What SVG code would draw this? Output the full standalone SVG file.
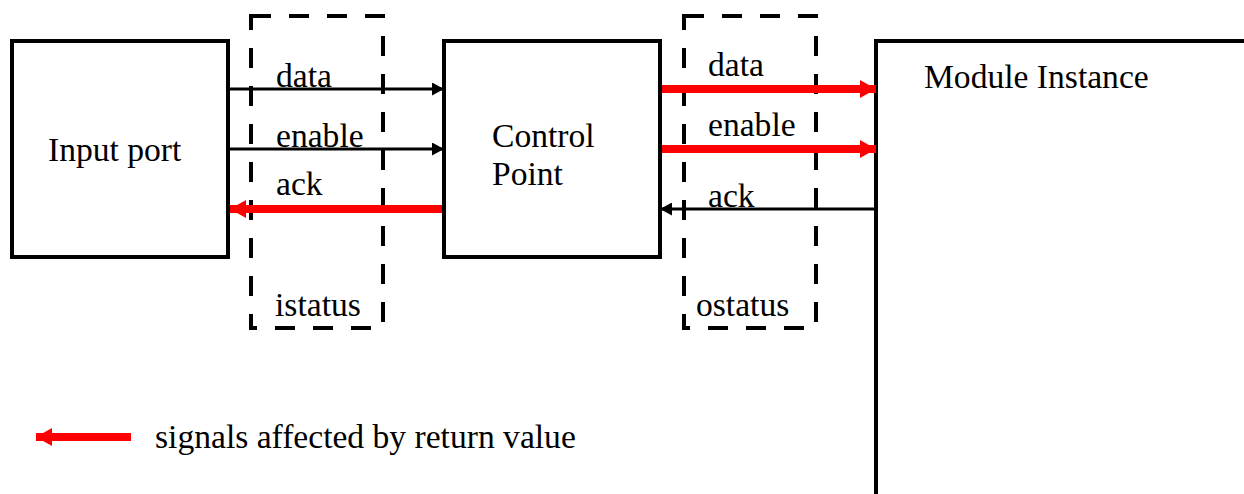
<svg xmlns="http://www.w3.org/2000/svg" width="1244" height="494" viewBox="0 0 1244 494">
  <style>
    .box { fill: none; stroke: #000; stroke-width: 4; }
    .status { fill: none; stroke: #000; stroke-width: 4; stroke-dasharray: 20 18; }
    .sig { stroke: #000; stroke-width: 3; fill: none; }
    .ret { stroke: #ff0000; stroke-width: 8; fill: none; }
    text { font-family: 'Liberation Serif', 'Times New Roman', serif; font-size: 33.6px; fill: #000; }
  </style>
  <defs>
    <marker id="arrow-black" viewBox="0 0 12 13" refX="12" refY="6.5" markerWidth="12" markerHeight="13" markerUnits="userSpaceOnUse" orient="auto">
      <path d="M0,0 L12,6.5 L0,13 Z" fill="#000"/>
    </marker>
    <marker id="arrow-red" viewBox="0 0 16 18" refX="16" refY="9" markerWidth="16" markerHeight="18" markerUnits="userSpaceOnUse" orient="auto">
      <path d="M0,0 L16,9 L0,18 Z" fill="#ff0000"/>
    </marker>
  </defs>

  <rect width="1244" height="494" fill="#fff"/>

  <!-- status latches -->
  <g id="istatus">
    <rect class="status" x="251" y="16" width="132" height="312"/>
    <text x="275" y="316">istatus</text>
  </g>
  <g id="ostatus">
    <rect class="status" x="684" y="16" width="132" height="312"/>
    <text x="696" y="316">ostatus</text>
  </g>

  <!-- nodes -->
  <g id="input-port">
    <rect class="box" x="12" y="41" width="216" height="216"/>
    <text x="48" y="161">Input port</text>
  </g>
  <g id="control-point">
    <rect class="box" x="444" y="41" width="216" height="216"/>
    <text x="492" y="147">Control</text>
    <text x="492" y="185">Point</text>
  </g>
  <g id="module-instance">
    <path class="box" d="M876,494 V41 H1244"/>
    <text x="924" y="88">Module Instance</text>
  </g>

  <!-- connectors -->
  <g id="connectors">
    <line class="sig" x1="228" y1="89" x2="444" y2="89" marker-end="url(#arrow-black)"/>
    <line class="sig" x1="228" y1="149" x2="444" y2="149" marker-end="url(#arrow-black)"/>
    <line class="ret" x1="442" y1="209" x2="230" y2="209" marker-end="url(#arrow-red)"/>
    <line class="ret" x1="662" y1="89" x2="876" y2="89" marker-end="url(#arrow-red)"/>
    <line class="ret" x1="662" y1="149" x2="876" y2="149" marker-end="url(#arrow-red)"/>
    <line class="sig" x1="876" y1="209" x2="660" y2="209" marker-end="url(#arrow-black)"/>
  </g>

  <!-- connector labels -->
  <g id="labels">
    <text x="276" y="87">data</text>
    <text x="276" y="147">enable</text>
    <text x="276" y="195">ack</text>
    <text x="708" y="76">data</text>
    <text x="708" y="136">enable</text>
    <text x="708" y="207">ack</text>
  </g>

  <!-- legend -->
  <g id="legend">
    <line class="ret" x1="131" y1="437" x2="36" y2="437" marker-end="url(#arrow-red)"/>
    <text x="155" y="448">signals affected by return value</text>
  </g>
</svg>
